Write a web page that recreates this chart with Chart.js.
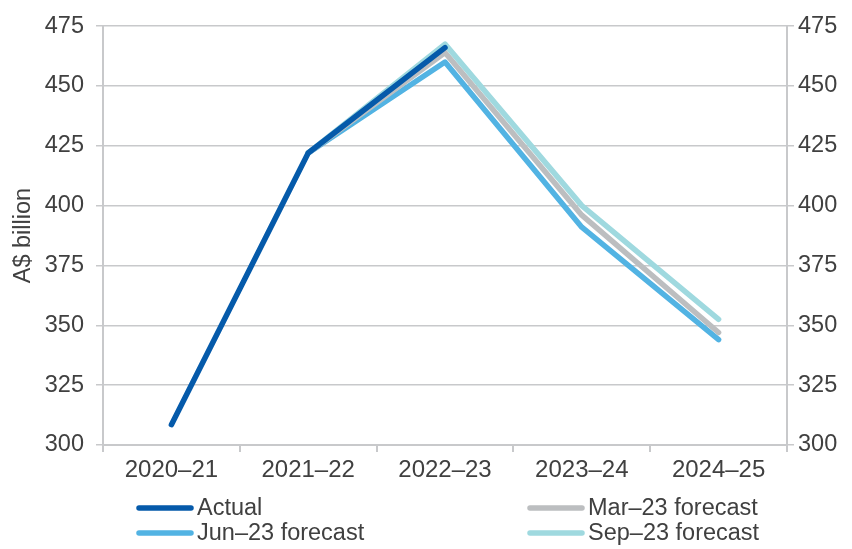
<!DOCTYPE html>
<html>
<head>
<meta charset="utf-8">
<script src="https://cdn.jsdelivr.net/npm/chart.js@4"></script>
<style>
  html, body { margin: 0; padding: 0; background: #ffffff; }
  #wrap { width: 852px; height: 549px; }
</style>
</head>
<body>
<div id="wrap"><canvas id="c" width="852" height="549"></canvas></div>
<script>
// Financial years on the horizontal axis
const years = ['2020–21', '2021–22', '2022–23', '2023–24', '2024–25'];

// A$ billion, actual outcomes and successive forecasts
const actual = [308.5, 422, 466, null, null];
const mar23 = [null, 422, 464, 396, 347];
const jun23 = [null, 422, 460, 391, 344];
const sep23 = [null, 422, 467.5, 400, 352.5];

// Value axis
const yMin = 300;
const yMax = 475;
const yStep = 25;

const FONT = "'Liberation Sans', Arial, sans-serif";
const TEXT = '#404040';
const GRID = '#c8c9cb';

// Legend drawn in two columns under the category labels
const legendLayout = [
  { index: 0, x: 137, y: 508 },
  { index: 2, x: 137, y: 533 },
  { index: 1, x: 528, y: 508 },
  { index: 3, x: 528, y: 533 }
];

const legendPlugin = {
  id: 'twoColumnLegend',
  afterDraw(chart) {
    const ctx = chart.ctx;
    ctx.save();
    ctx.font = '23.5px ' + FONT;
    ctx.textBaseline = 'middle';
    ctx.textAlign = 'left';
    legendLayout.forEach(item => {
      const ds = chart.data.datasets[item.index];
      ctx.strokeStyle = ds.borderColor;
      ctx.lineWidth = 5.5;
      ctx.lineCap = 'round';
      ctx.beginPath();
      ctx.moveTo(item.x + 2, item.y);
      ctx.lineTo(item.x + 54, item.y);
      ctx.stroke();
      ctx.fillStyle = TEXT;
      ctx.fillText(ds.label, item.x + 60, item.y + 1);
    });
    ctx.restore();
  }
};

const lineStyle = {
  borderWidth: 5.5,
  pointRadius: 0,
  pointHoverRadius: 0,
  borderCapStyle: 'round',
  borderJoinStyle: 'round',
  tension: 0,
  fill: false,
  spanGaps: false
};

new Chart(document.getElementById('c'), {
  type: 'line',
  data: {
    labels: years,
    datasets: [
      Object.assign({ label: 'Actual', data: actual, borderColor: '#055aaa', order: 0 }, lineStyle),
      Object.assign({ label: 'Mar–23 forecast', data: mar23, borderColor: '#bcbec0', order: 2 }, lineStyle),
      Object.assign({ label: 'Jun–23 forecast', data: jun23, borderColor: '#52b3e3', order: 3 }, lineStyle),
      Object.assign({ label: 'Sep–23 forecast', data: sep23, borderColor: '#9fd9df', order: 1 }, lineStyle)
    ]
  },
  options: {
    responsive: false,
    animation: false,
    events: [],
    layout: { padding: { top: 8, left: 9, right: 0, bottom: 0 } },
    plugins: {
      legend: { display: false },
      tooltip: { enabled: false },
      title: { display: false }
    },
    scales: {
      x: {
        offset: true,
        grid: {
          offset: true,
          drawOnChartArea: false,
          drawTicks: true,
          tickLength: 7,
          color: GRID,
          lineWidth: 2
        },
        border: { display: true, color: GRID, width: 2 },
        ticks: {
          color: TEXT,
          font: { family: FONT, size: 24 },
          padding: 4,
          maxRotation: 0,
          autoSkip: false
        },
        afterFit(scale) { scale.height = 104; }
      },
      y: {
        position: 'left',
        min: yMin,
        max: yMax,
        grid: {
          color: GRID,
          lineWidth: 1.5,
          tickLength: 7,
          drawTicks: true
        },
        border: { display: true, color: GRID, width: 2 },
        ticks: {
          stepSize: yStep,
          color: TEXT,
          font: { family: FONT, size: 23.5 },
          padding: 12
        },
        title: {
          display: true,
          text: 'A$ billion',
          color: TEXT,
          font: { family: FONT, size: 23.5 },
          padding: { top: 0, bottom: 0 }
        },
        afterFit(scale) { scale.width = 94; }
      },
      y2: {
        position: 'right',
        min: yMin,
        max: yMax,
        grid: {
          drawOnChartArea: false,
          color: GRID,
          lineWidth: 1.5,
          tickLength: 7
        },
        border: { display: true, color: GRID, width: 2 },
        ticks: {
          stepSize: yStep,
          color: TEXT,
          font: { family: FONT, size: 23.5 },
          padding: 4
        },
        afterFit(scale) { scale.width = 65; }
      }
    }
  },
  plugins: [legendPlugin]
});
</script>
</body>
</html>
